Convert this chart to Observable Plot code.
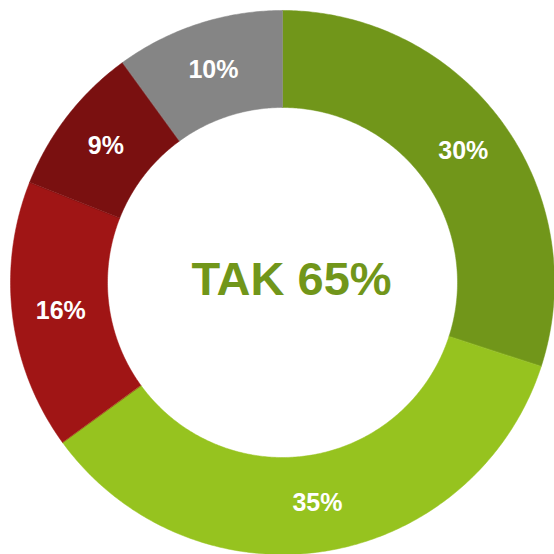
<!DOCTYPE html>
<html>
<head>
<meta charset="utf-8">
<script src="https://cdn.jsdelivr.net/npm/d3@7"></script>
<script src="https://cdn.jsdelivr.net/npm/@observablehq/plot@0.6"></script>
<style>
  html, body { margin: 0; padding: 0; background: #fff; }
  svg { display: block; }
</style>
</head>
<body>
<div id="chart"></div>
<script>
const categories = ["A", "B", "C", "D", "E"];
const values = [30, 35, 16, 9, 10];
const labels = ["30%", "35%", "16%", "9%", "10%"];
const colors = ["#71961a", "#96c31f", "#a01515", "#7a1010", "#858585"];
const centerText = "TAK 65%";

const outerR = 272, innerR = 175;
const pie = d3.pie().sort(null).value(d => d.value);
const slices = pie(categories.map((c, i) => ({name: c, value: values[i], label: labels[i]})));
const arc = d3.arc().innerRadius(innerR).outerRadius(outerR);

// polygon outline of each slice (geometry derived from pie angles)
const pts = [];
for (const s of slices) {
  const n = Math.max(8, Math.ceil((s.endAngle - s.startAngle) / 0.01));
  for (let k = 0; k <= n; k++) {
    const a = s.startAngle + (s.endAngle - s.startAngle) * k / n;
    pts.push({name: s.data.name, x: outerR * Math.sin(a), y: -outerR * Math.cos(a)});
  }
  for (let k = n; k >= 0; k--) {
    const a = s.startAngle + (s.endAngle - s.startAngle) * k / n;
    pts.push({name: s.data.name, x: innerR * Math.sin(a), y: -innerR * Math.cos(a)});
  }
}
const labelPts = slices.map(s => {
  const [x, y] = arc.centroid(s);
  return {x, y, label: s.data.label};
});

const chart = Plot.plot({
  width: 554,
  height: 554,
  margin: 0,
  x: {domain: [-282, 272], range: [0, 554], axis: null},
  y: {domain: [-282, 272], range: [0, 554], axis: null},
  color: {domain: categories, range: colors},
  style: {fontFamily: "'Liberation Sans', Arial, sans-serif", background: "#fff"},
  marks: [
    Plot.line(pts, {x: "x", y: "y", z: "name", fill: "name", stroke: "name", strokeWidth: 0.5, curve: "linear-closed"}),
    Plot.text(labelPts, {x: "x", y: "y", text: "label", fill: "white", fontSize: 25, fontWeight: "bold"}),
    Plot.text([centerText], {x: () => 0, y: () => 0, text: d => d, fill: "#71961a", fontSize: 47, fontWeight: "bold", dx: 9, dy: -3})
  ]
});
document.getElementById("chart").appendChild(chart);
</script>
</body>
</html>
